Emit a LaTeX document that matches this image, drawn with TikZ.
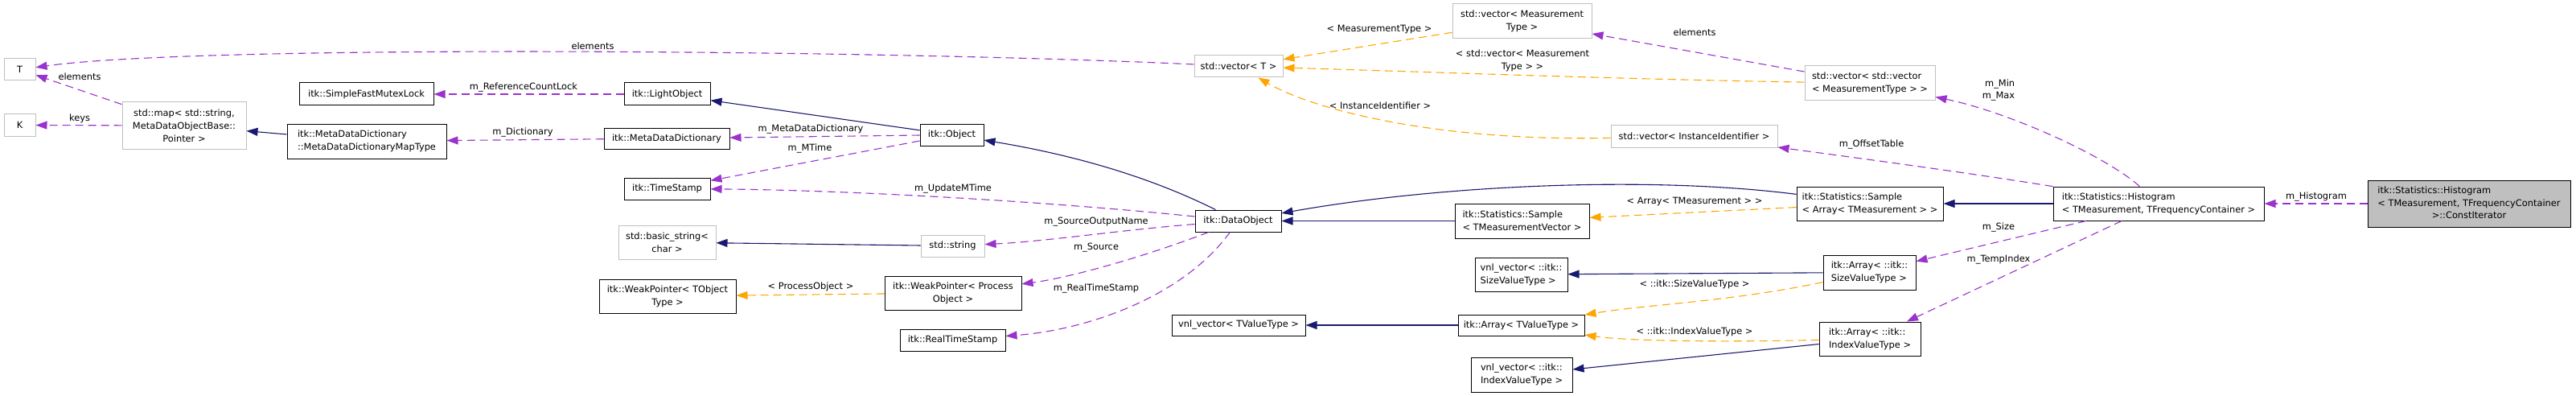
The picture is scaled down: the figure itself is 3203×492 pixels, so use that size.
\documentclass[tikz,border=0pt]{standalone}
\usepackage{fontspec}
\setmainfont{DejaVu Sans}
\usetikzlibrary{arrows.meta}
\definecolor{edgeblue}{HTML}{191970}
\definecolor{edgepurple}{HTML}{9A32CD}
\definecolor{edgeorange}{HTML}{FFA500}
\definecolor{grayline}{HTML}{BFBFBF}
\definecolor{cifill}{HTML}{BFBFBF}
\begin{document}
\begin{tikzpicture}[x=1pt,y=-1pt,
  txt/.style={font=\fontsize{11.4}{15.8}\selectfont},
  cls/.style={txt,draw=black,line width=1pt,inner sep=0pt,fill=white},
  ext/.style={txt,draw=grayline,line width=1pt,inner sep=0pt,fill=white},
  lbl/.style={txt,inner sep=0pt},
  inh/.style={draw=edgeblue,line width=1.1pt,-{Triangle[length=14pt,width=10pt]}},
  use/.style={draw=edgepurple,line width=1.1pt,dash pattern=on 10pt off 6pt,-{Triangle[length=14pt,width=10pt]}},
  tpl/.style={draw=edgeorange,line width=1.1pt,dash pattern=on 10pt off 6pt,-{Triangle[length=14pt,width=10pt]}}
]
\useasboundingbox (0,0) rectangle (3203,492);
\fill[white] (0,0) rectangle (3203,492);

% ---- nodes ----
\node[ext,minimum width=39,minimum height=27] (T) at (24.5,86.5) {T};
\node[ext,minimum width=39,minimum height=27] (K) at (24.5,155.5) {K};
\node[ext,minimum width=154,minimum height=58,align=center] (map) at (229,156) {std::map< std::string,\\MetaDataObjectBase::\\Pointer >};
\node[cls,minimum width=167,minimum height=28] (sfml) at (455.5,117) {itk::SimpleFastMutexLock};
\node[cls,minimum width=198,minimum height=43,align=left] (maptype) at (456,175.5) {itk::MetaDataDictionary\\::MetaDataDictionaryMapType};
\node[cls,minimum width=107,minimum height=28] (light) at (829.5,117) {itk::LightObject};
\node[cls,minimum width=156,minimum height=26] (mdd) at (829,172) {itk::MetaDataDictionary};
\node[cls,minimum width=107,minimum height=27] (ts) at (829.5,234.5) {itk::TimeStamp};
\node[ext,minimum width=121,minimum height=42,align=center] (bstr) at (829.5,301) {std::basic\_string<\\char >};
\node[cls,minimum width=170,minimum height=42,align=center] (wpt) at (830,368) {itk::WeakPointer< TObject\\Type >};
\node[cls,minimum width=79,minimum height=27] (obj) at (1183.5,167.5) {itk::Object};
\node[ext,minimum width=79,minimum height=27] (str) at (1184.5,305.5) {std::string};
\node[cls,minimum width=170,minimum height=42,align=center] (wpp) at (1185,364) {itk::WeakPointer< Process\\Object >};
\node[cls,minimum width=131,minimum height=27] (rts) at (1184.5,422.5) {itk::RealTimeStamp};
\node[ext,minimum width=110,minimum height=27] (vect) at (1540,82.5) {std::vector< T >};
\node[cls,minimum width=107,minimum height=27] (dobj) at (1539.5,274.5) {itk::DataObject};
\node[cls,minimum width=166,minimum height=26] (vnlt) at (1540,404) {vnl\_vector< TValueType >};
\node[ext,minimum width=173,minimum height=43,align=center] (vecm) at (1892.5,26.5) {std::vector< Measurement\\Type >};
\node[ext,minimum width=207,minimum height=28] (veci) at (2106.5,169) {std::vector< InstanceIdentifier >};
\node[cls,minimum width=167,minimum height=43,align=left] (stmv) at (1892.5,274.5) {itk::Statistics::Sample\\< TMeasurementVector >};
\node[cls,minimum width=115,minimum height=42,align=left] (vnls) at (1891.5,341) {vnl\_vector< ::itk::\\SizeValueType >};
\node[cls,minimum width=157,minimum height=26] (arrt) at (1891.5,404) {itk::Array< TValueType >};
\node[cls,minimum width=126,minimum height=43,align=left] (vnli) at (1892,465.5) {vnl\_vector< ::itk::\\IndexValueType >};
\node[ext,minimum width=162,minimum height=43,align=left] (vecv) at (2325,103.5) {std::vector< std::vector\\< MeasurementType > >};
\node[cls,minimum width=182,minimum height=42,align=left] (sa) at (2325,253) {itk::Statistics::Sample\\< Array< TMeasurement > >};
\node[cls,minimum width=115,minimum height=43,align=left] (arrs) at (2324.5,338.5) {itk::Array< ::itk::\\SizeValueType >};
\node[cls,minimum width=126,minimum height=42,align=left] (arri) at (2325,421) {itk::Array< ::itk::\\IndexValueType >};
\node[cls,minimum width=262,minimum height=42,align=left] (hist) at (2684,253) {itk::Statistics::Histogram\\< TMeasurement, TFrequencyContainer >};
\node[cls,fill=cifill,minimum width=252,minimum height=58] (ci) at (3070,253) {\begin{tabular}{@{}l@{}}itk::Statistics::Histogram\\< TMeasurement, TFrequencyContainer\\\multicolumn{1}{@{}c@{}}{>::ConstIterator}\end{tabular}};

% ---- inheritance (blue) ----
\draw[inh] (obj) -- (light);
\draw[inh] (maptype) -- (map);
\draw[inh] (dobj) .. controls (1440,225) and (1350,195) .. (obj);
\draw[inh] (str) -- (bstr);
\draw[inh] (stmv) -- (dobj);
\draw[inh] (sa) .. controls (2050,218) and (1790,230) .. (dobj);
\draw[inh] (hist) -- (sa);
\draw[inh] (arrs) -- (vnls);
\draw[inh] (arrt) -- (vnlt);
\draw[inh] (arri) -- (vnli);

% ---- template instances (orange) ----
\draw[tpl] (wpp) -- (wpt);
\draw[tpl] (vecm) -- (vect);
\draw[tpl] (vecv) .. controls (2000,98) and (1800,90) .. (vect);
\draw[tpl] (veci) .. controls (1800,176) and (1640,140) .. (vect);
\draw[tpl] (sa) -- (stmv);
\draw[tpl] (arrs) .. controls (2150,375) and (2050,378) .. (arrt);
\draw[tpl] (arri) .. controls (2100,426) and (2010,422) .. (arrt);

% ---- usage (purple) ----
\draw[use] (vect) .. controls (1100,62) and (250,55) .. (T);
\draw[use] (map) -- (T);
\draw[use] (map) -- (K);
\draw[use] (light) -- (sfml);
\draw[use] (mdd) -- (maptype);
\draw[use] (obj) -- (mdd);
\draw[use] (obj) -- (ts);
\draw[use] (dobj) .. controls (1300,250) and (1050,236) .. (ts);
\draw[use] (dobj) .. controls (1400,285) and (1300,300) .. (str);
\draw[use] (dobj) .. controls (1420,320) and (1330,345) .. (wpp);
\draw[use] (dobj) .. controls (1470,370) and (1350,410) .. (rts);
\draw[use] (vecv) -- (vecm);
\draw[use] (hist) .. controls (2620,195) and (2500,140) .. (vecv);
\draw[use] (hist) .. controls (2450,215) and (2300,195) .. (veci);
\draw[use] (hist) -- (arrs);
\draw[use] (hist) -- (arri);
\draw[use] (ci) -- (hist);

% ---- labels ----
\node[lbl] (lTel) at (737,57) {elements};
\node[lbl] (lMapT) at (99,95) {elements};
\node[lbl] (lKeys) at (99,147) {keys};
\node[lbl] (lRCL) at (651,109) {m\_ReferenceCountLock};
\node[lbl] (lDict) at (650,165) {m\_Dictionary};
\node[lbl] (lMDD) at (1008,161) {m\_MetaDataDictionary};
\node[lbl] (lMT) at (1007,185) {m\_MTime};
\node[lbl] (lUMT) at (1185,235) {m\_UpdateMTime};
\node[lbl] (lSON) at (1363,276) {m\_SourceOutputName};
\node[lbl] (lSrc) at (1363,308) {m\_Source};
\node[lbl] (lRTS) at (1363,359) {m\_RealTimeStamp};
\node[lbl] (lPO) at (1008,356) {< ProcessObject >};
\node[lbl] (lMeas) at (1715,37) {< MeasurementType >};
\node[lbl,align=center] (lVV) at (1893,75) {< std::vector< Measurement\\Type > >};
\node[lbl] (lII) at (1716,131) {< InstanceIdentifier >};
\node[lbl] (lEl2) at (2107,40) {elements};
\node[lbl,align=right] (lMinMax) at (2485,112) {m\_Min\\m\_Max};
\node[lbl] (lOT) at (2327,180) {m\_OffsetTable};
\node[lbl] (lAT) at (2107,251) {< Array< TMeasurement > >};
\node[lbl] (lST) at (2107,353) {< ::itk::SizeValueType >};
\node[lbl] (lIT) at (2107,412) {< ::itk::IndexValueType >};
\node[lbl] (lSize) at (2485,283) {m\_Size};
\node[lbl] (lTI) at (2485,323) {m\_TempIndex};
\node[lbl] (lHist) at (2880,245) {m\_Histogram};
\end{tikzpicture}
\end{document}
